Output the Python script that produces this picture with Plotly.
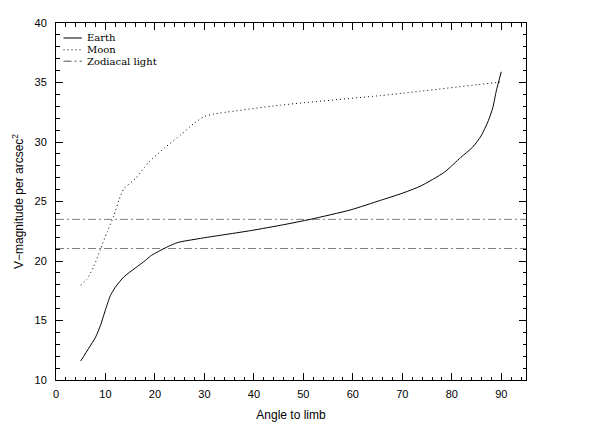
import plotly.graph_objects as go

# Earth limb brightness
earth_angle = [5, 6.6, 8, 9, 10, 11, 12, 13.7, 16, 18.1, 19.1, 20.1, 21.8, 24.5, 29.2,
               39.3, 46.0, 51.4, 59.5, 65.6, 69.7, 73.7, 78.5, 81.8, 84.2, 85.9, 87.4,
               88.3, 89.0, 90.0]
earth_mag = [11.6, 12.66, 13.6, 14.6, 15.9, 17.1, 17.8, 18.66, 19.4, 20.06, 20.42, 20.67,
             21.04, 21.54, 21.9, 22.55, 23.05, 23.5, 24.29, 25.1, 25.65, 26.3, 27.46,
             28.7, 29.56, 30.5, 31.8, 32.9, 34.3, 35.9]

# Moon limb brightness
moon_angle = [5, 6.3, 7.6, 9, 10.3, 11.7, 12.7, 13.7, 16, 18.75, 22.1, 25.2, 27.9, 29.9,
              31.9, 45.4, 65.6, 69.7, 89.0, 90.0]
moon_mag = [17.96, 18.5, 19.5, 21.0, 22.4, 23.8, 25.1, 26.07, 26.9, 28.3, 29.56, 30.6,
            31.57, 32.13, 32.35, 33.1, 33.9, 34.08, 35.0, 35.05]

# Zodiacal light levels
zodi_range = [0, 95]
zodi_levels = [23.5, 21.05]

legend_labels = ["Earth", "Moon", "Zodiacal light"]

fig = go.Figure()
for lvl in zodi_levels:
    fig.add_trace(go.Scatter(x=zodi_range, y=[lvl, lvl], mode="lines",
                             line=dict(color="#808080", width=1, dash="8px,3px,2px,3px"),
                             showlegend=False, hoverinfo="skip"))
fig.add_trace(go.Scatter(x=moon_angle, y=moon_mag, mode="lines",
                         line=dict(color="black", width=1, dash="1px,3px", shape="spline", smoothing=0.5),
                         showlegend=False))
fig.add_trace(go.Scatter(x=earth_angle, y=earth_mag, mode="lines",
                         line=dict(color="black", width=1, shape="spline", smoothing=0.6),
                         showlegend=False))

# manual legend
leg_y = [0.958, 0.925, 0.893]
leg_dash = ["solid", "1px,3px", "8px,3px,2px,3px"]
leg_col = ["black", "black", "#555555"]
for lab, yy, dsh, col in zip(legend_labels, leg_y, leg_dash, leg_col):
    fig.add_shape(type="line", xref="paper", yref="paper", x0=0.016, x1=0.055, y0=yy, y1=yy,
                  line=dict(color=col, width=1, dash=dsh))
    fig.add_annotation(xref="paper", yref="paper", x=0.062, y=yy, text=lab, showarrow=False,
                       xanchor="left", yanchor="middle",
                       font=dict(family="DejaVu Serif", size=10, color="black"))

axis_common = dict(showline=True, linecolor="black", linewidth=1, mirror="allticks",
                   ticks="inside", ticklen=7, tickcolor="black", showgrid=False, automargin=False,
                   zeroline=False, tickfont=dict(family="Liberation Sans", size=11, color="black"))

fig.update_xaxes(range=[0, 95], tick0=0, dtick=10,
                 minor=dict(dtick=2, ticks="inside", ticklen=3.5, tickcolor="black", showgrid=False),
                 title=dict(text="Angle to limb", font=dict(family="Liberation Sans", size=12, color="black"),
                            standoff=11),
                 ticklabelstandoff=4,
                 **axis_common)
fig.update_yaxes(range=[10, 40], tick0=10, dtick=5,
                 minor=dict(dtick=1, ticks="inside", ticklen=3.5, tickcolor="black", showgrid=False),
                 title=dict(text="V\u2212magnitude per arcsec<sup>2</sup>",
                            font=dict(family="Liberation Sans", size=12, color="black"), standoff=8),
                 ticklabelstandoff=6,
                 **axis_common)

fig.update_layout(width=591, height=422, margin=dict(l=48, r=73, t=15, b=50),
                  plot_bgcolor="white", paper_bgcolor="white", showlegend=False)

fig.write_html("out.html")
